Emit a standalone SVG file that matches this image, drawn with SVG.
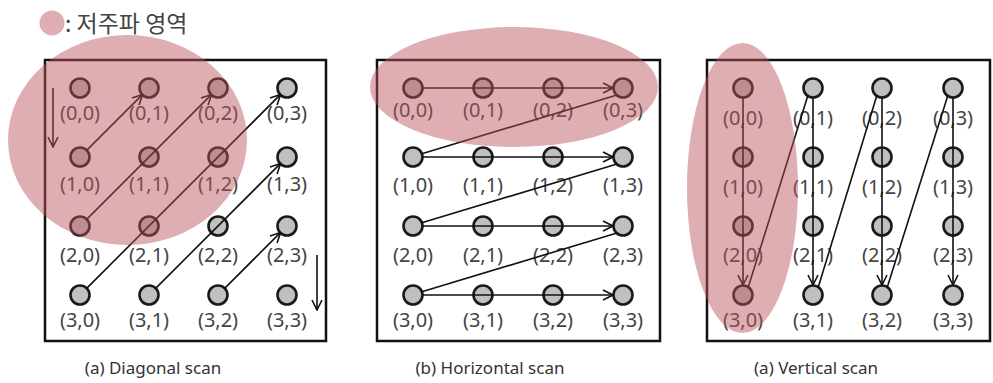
<svg xmlns="http://www.w3.org/2000/svg" width="993" height="383" viewBox="0 0 993 383">
<defs>
<style>
.box{fill:none;stroke:#111;stroke-width:2.5}
.n{fill:#c0c0c0;stroke:#1a1a1a;stroke-width:2.6}
.lb{font-family:"Noto Sans","Liberation Sans",sans-serif;font-size:20px;fill:#444;text-anchor:middle}
.cap{font-family:"Noto Sans","Liberation Sans",sans-serif;font-size:17px;fill:#333;text-anchor:middle}
.ln{stroke:#111;stroke-width:1.6;fill:none}
.ar{stroke:#111;stroke-width:1.6;fill:none;marker-end:url(#ah)}
.lo{fill:#b8525c;opacity:0.47}
</style>
<marker id="ah" viewBox="0 0 12 12" refX="11" refY="6" markerWidth="12" markerHeight="12" markerUnits="userSpaceOnUse" orient="auto">
<path d="M1,1 L11,6 L1,11" fill="none" stroke="#111" stroke-width="1.6"/>
</marker>
</defs>
<rect width="993" height="383" fill="#fff"/>

<g id="legend">
<ellipse class="lo" cx="52" cy="23" rx="12.5" ry="12.5"/>
<text x="65" y="32" font-family="'Noto Sans CJK KR','Noto Sans',sans-serif" font-size="23" fill="#444">: 저주파 영역</text>
</g>

<!-- Panel 1 -->
<g id="panel-diagonal">
<rect class="box" x="45" y="60" width="281" height="281"/>
<g id="d-nodes">
<circle class="n" cx="80" cy="88" r="9.5"/><circle class="n" cx="149" cy="88" r="9.5"/><circle class="n" cx="218" cy="88" r="9.5"/><circle class="n" cx="287" cy="88" r="9.5"/>
<circle class="n" cx="80" cy="157" r="9.5"/><circle class="n" cx="149" cy="157" r="9.5"/><circle class="n" cx="218" cy="157" r="9.5"/><circle class="n" cx="287" cy="157" r="9.5"/>
<circle class="n" cx="80" cy="226" r="9.5"/><circle class="n" cx="149" cy="226" r="9.5"/><circle class="n" cx="218" cy="226" r="9.5"/><circle class="n" cx="287" cy="226" r="9.5"/>
<circle class="n" cx="80" cy="295" r="9.5"/><circle class="n" cx="149" cy="295" r="9.5"/><circle class="n" cx="218" cy="295" r="9.5"/><circle class="n" cx="287" cy="295" r="9.5"/>
</g>
<g id="d-labels">
<text class="lb" x="80" y="120">(0,0)</text><text class="lb" x="149" y="120">(0,1)</text><text class="lb" x="218" y="120">(0,2)</text><text class="lb" x="287" y="120">(0,3)</text>
<text class="lb" x="80" y="191">(1,0)</text><text class="lb" x="149" y="191">(1,1)</text><text class="lb" x="218" y="191">(1,2)</text><text class="lb" x="287" y="191">(1,3)</text>
<text class="lb" x="80" y="262">(2,0)</text><text class="lb" x="149" y="262">(2,1)</text><text class="lb" x="218" y="262">(2,2)</text><text class="lb" x="287" y="262">(2,3)</text>
<text class="lb" x="80" y="327">(3,0)</text><text class="lb" x="149" y="327">(3,1)</text><text class="lb" x="218" y="327">(3,2)</text><text class="lb" x="287" y="327">(3,3)</text>
</g>
<g id="d-connectors">
<line class="ar" x1="86.4" y1="150.6" x2="142.6" y2="94.4"/>
<line class="ar" x1="86.4" y1="219.6" x2="211.6" y2="94.4"/>
<line class="ar" x1="86.4" y1="288.6" x2="280.6" y2="94.4"/>
<line class="ar" x1="155.4" y1="288.6" x2="280.6" y2="163.4"/>
<line class="ar" x1="224.4" y1="288.6" x2="280.6" y2="232.4"/>
<line class="ar" x1="53" y1="88" x2="53" y2="147"/>
<line class="ar" x1="317" y1="255" x2="317" y2="310"/>
</g>
<ellipse class="lo" cx="127.5" cy="140" rx="119.5" ry="105"/>
<text class="cap" x="153" y="374">(a) Diagonal scan</text>
</g>

<!-- Panel 2 -->
<g id="panel-horizontal">
<rect class="box" x="377" y="60" width="283" height="281"/>
<g id="h-nodes">
<circle class="n" cx="413" cy="88" r="9.5"/><circle class="n" cx="483" cy="88" r="9.5"/><circle class="n" cx="553" cy="88" r="9.5"/><circle class="n" cx="623" cy="88" r="9.5"/>
<circle class="n" cx="413" cy="157" r="9.5"/><circle class="n" cx="483" cy="157" r="9.5"/><circle class="n" cx="553" cy="157" r="9.5"/><circle class="n" cx="623" cy="157" r="9.5"/>
<circle class="n" cx="413" cy="226" r="9.5"/><circle class="n" cx="483" cy="226" r="9.5"/><circle class="n" cx="553" cy="226" r="9.5"/><circle class="n" cx="623" cy="226" r="9.5"/>
<circle class="n" cx="413" cy="295" r="9.5"/><circle class="n" cx="483" cy="295" r="9.5"/><circle class="n" cx="553" cy="295" r="9.5"/><circle class="n" cx="623" cy="295" r="9.5"/>
</g>
<g id="h-labels">
<text class="lb" x="413" y="117">(0,0)</text><text class="lb" x="483" y="117">(0,1)</text><text class="lb" x="553" y="117">(0,2)</text><text class="lb" x="623" y="117">(0,3)</text>
<text class="lb" x="413" y="192">(1,0)</text><text class="lb" x="483" y="192">(1,1)</text><text class="lb" x="553" y="192">(1,2)</text><text class="lb" x="623" y="192">(1,3)</text>
<text class="lb" x="413" y="262">(2,0)</text><text class="lb" x="483" y="262">(2,1)</text><text class="lb" x="553" y="262">(2,2)</text><text class="lb" x="623" y="262">(2,3)</text>
<text class="lb" x="413" y="327">(3,0)</text><text class="lb" x="483" y="327">(3,1)</text><text class="lb" x="553" y="327">(3,2)</text><text class="lb" x="623" y="327">(3,3)</text>
</g>
<g id="h-connectors">
<line class="ar" x1="422" y1="88" x2="613" y2="88"/>
<line class="ar" x1="422" y1="157" x2="613" y2="157"/>
<line class="ar" x1="422" y1="226" x2="613" y2="226"/>
<line class="ar" x1="422" y1="295" x2="613" y2="295"/>
<line class="ln" x1="617" y1="95" x2="421" y2="154"/>
<line class="ln" x1="617" y1="164" x2="421" y2="223"/>
<line class="ln" x1="617" y1="233" x2="421" y2="292"/>
</g>
<ellipse class="lo" cx="514" cy="87" rx="144" ry="60"/>
<text class="cap" x="490" y="374">(b) Horizontal scan</text>
</g>

<!-- Panel 3 -->
<g id="panel-vertical">
<rect class="box" x="707" y="60" width="283" height="281"/>
<g id="v-nodes">
<circle class="n" cx="743" cy="88" r="9.5"/><circle class="n" cx="813" cy="88" r="9.5"/><circle class="n" cx="882" cy="88" r="9.5"/><circle class="n" cx="953" cy="88" r="9.5"/>
<circle class="n" cx="743" cy="157" r="9.5"/><circle class="n" cx="813" cy="157" r="9.5"/><circle class="n" cx="882" cy="157" r="9.5"/><circle class="n" cx="953" cy="157" r="9.5"/>
<circle class="n" cx="743" cy="226" r="9.5"/><circle class="n" cx="813" cy="226" r="9.5"/><circle class="n" cx="882" cy="226" r="9.5"/><circle class="n" cx="953" cy="226" r="9.5"/>
<circle class="n" cx="743" cy="295" r="9.5"/><circle class="n" cx="813" cy="295" r="9.5"/><circle class="n" cx="882" cy="295" r="9.5"/><circle class="n" cx="953" cy="295" r="9.5"/>
</g>
<g id="v-labels">
<text class="lb" x="743" y="125">(0,0)</text><text class="lb" x="813" y="125">(0,1)</text><text class="lb" x="882" y="125">(0,2)</text><text class="lb" x="953" y="125">(0,3)</text>
<text class="lb" x="743" y="194">(1,0)</text><text class="lb" x="813" y="194">(1,1)</text><text class="lb" x="882" y="194">(1,2)</text><text class="lb" x="953" y="194">(1,3)</text>
<text class="lb" x="743" y="262">(2,0)</text><text class="lb" x="813" y="262">(2,1)</text><text class="lb" x="882" y="262">(2,2)</text><text class="lb" x="953" y="262">(2,3)</text>
<text class="lb" x="743" y="327">(3,0)</text><text class="lb" x="813" y="327">(3,1)</text><text class="lb" x="882" y="327">(3,2)</text><text class="lb" x="953" y="327">(3,3)</text>
</g>
<g id="v-connectors">
<line class="ar" x1="743" y1="97" x2="743" y2="285"/>
<line class="ar" x1="813" y1="97" x2="813" y2="285"/>
<line class="ar" x1="882" y1="97" x2="882" y2="285"/>
<line class="ar" x1="953" y1="97" x2="953" y2="285"/>
<line class="ln" x1="748" y1="288" x2="808" y2="95"/>
<line class="ln" x1="818" y1="288" x2="877" y2="95"/>
<line class="ln" x1="887" y1="288" x2="948" y2="95"/>
</g>
<ellipse class="lo" cx="742.5" cy="188" rx="55.5" ry="145"/>
<text class="cap" x="816" y="374">(a) Vertical scan</text>
</g>
</svg>
